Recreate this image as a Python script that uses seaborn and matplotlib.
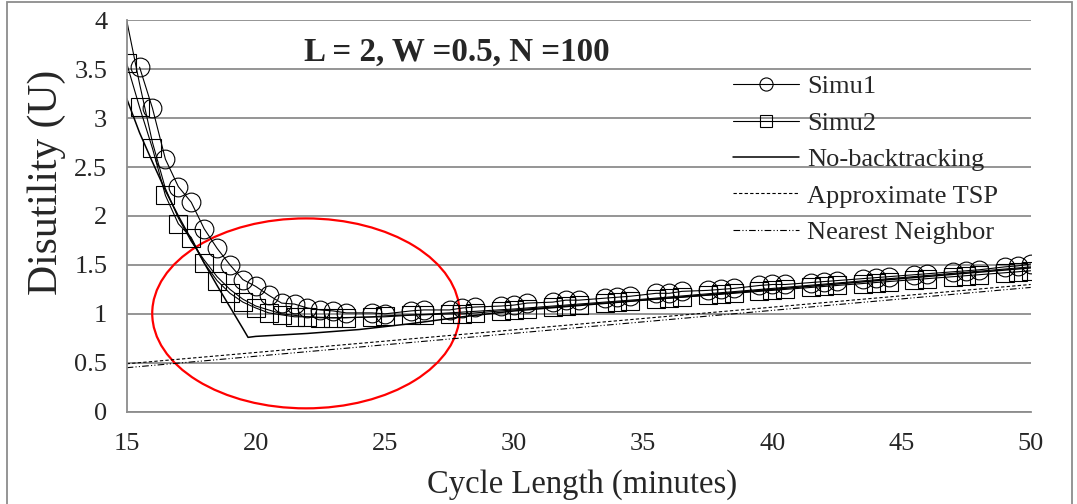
import numpy as np
import pandas as pd
import matplotlib
matplotlib.use('Agg')
import matplotlib.pyplot as plt
import seaborn as sns
from matplotlib.patches import Ellipse, Rectangle

# data
simu1_x = [15.5, 16, 16.5, 17, 17.5, 18, 18.5, 19, 19.5, 20, 20.5, 21, 21.5, 22, 22.5, 23, 23.5,
           24.5, 25, 26, 26.5, 27.5, 28, 28.5, 29.5, 30, 30.5, 31.5, 32, 32.5, 33.5, 34, 34.5,
           35.5, 36, 36.5, 37.5, 38, 38.5, 39.5, 40, 40.5, 41.5, 42, 42.5, 43.5, 44, 44.5,
           45.5, 46, 47, 47.5, 48, 49, 49.5, 50]
simu1_y = [3.52, 3.10, 2.58, 2.30, 2.14, 1.87, 1.67, 1.50, 1.35, 1.28, 1.19, 1.11, 1.10, 1.06, 1.04, 1.03, 1.01,
           1.01, 1.00, 1.03, 1.04, 1.04, 1.06, 1.07, 1.08, 1.09, 1.11, 1.12, 1.14, 1.14, 1.16, 1.17, 1.18,
           1.21, 1.21, 1.23, 1.24, 1.25, 1.26, 1.29, 1.30, 1.30, 1.32, 1.33, 1.34, 1.36, 1.37, 1.38,
           1.40, 1.41, 1.43, 1.44, 1.45, 1.48, 1.49, 1.51]

simu2_x = [15] + simu1_x
simu2_y = [3.56, 3.11, 2.69, 2.21, 1.92, 1.78, 1.52, 1.34, 1.21, 1.12, 1.06, 1.01, 0.99, 0.97, 0.97, 0.96, 0.96, 0.96,
           0.97, 0.98, 0.99, 0.99, 1.00, 1.00, 1.01, 1.03, 1.04, 1.05, 1.07, 1.08, 1.09, 1.11, 1.12, 1.13,
           1.15, 1.16, 1.17, 1.19, 1.20, 1.21, 1.23, 1.24, 1.25, 1.27, 1.28, 1.29, 1.31, 1.32, 1.33,
           1.35, 1.36, 1.38, 1.39, 1.40, 1.42, 1.43, 1.44]

# no-backtracking curve with its kink near 19.7
nobt_x = [15, 15.5, 16, 16.5, 17, 17.5, 18, 18.5, 19, 19.5, 19.7, 20, 22, 24, 26, 28, 30, 35, 40, 45, 50]
nobt_y = [3.20, 2.85, 2.55, 2.26, 2.00, 1.76, 1.52, 1.29, 1.07, 0.85, 0.76, 0.77, 0.80, 0.84, 0.90, 0.97, 1.03,
          1.14, 1.25, 1.36, 1.47]

# extra unlabeled steep line starting at the top-left corner
steep_x = [15, 15.5, 16, 16.5, 17, 17.5, 18, 18.5, 19, 19.5, 20, 21, 22, 23, 25, 30, 35, 40, 45, 50]
steep_y = [4.00, 3.35, 2.75, 2.28, 1.98, 1.74, 1.55, 1.38, 1.25, 1.15, 1.08, 1.00, 0.97, 0.96, 0.97, 1.05,
           1.15, 1.26, 1.37, 1.48]

tsp_x = [15, 50]
tsp_y = [0.49, 1.30]
nn_x = [15, 50]
nn_y = [0.45, 1.27]

title_txt = 'L = 2, W =0.5, N =100'

sns.set_style('white')
plt.rcParams['font.family'] = ['Liberation Serif', 'DejaVu Serif']

fig = plt.figure(figsize=(10.77, 5.04), dpi=100)
ax = fig.add_axes([0.1176, 0.183, 0.8394, 0.777])

grey = '#8c8c8c'
sns.lineplot(x=simu1_x, y=simu1_y, ax=ax, color='black', lw=0.8, marker='o', markersize=13.5,
             mfc='none', mec='black', mew=0.8, label='Simu1')
sns.lineplot(x=simu2_x, y=simu2_y, ax=ax, color='black', lw=0.8, marker='s', markersize=12.5,
             mfc='none', mec='black', mew=0.8, label='Simu2')
sns.lineplot(x=nobt_x, y=nobt_y, ax=ax, color='black', lw=1.1, label='No-backtracking')
sns.lineplot(x=tsp_x, y=tsp_y, ax=ax, color='black', lw=0.8, label='Approximate TSP')
sns.lineplot(x=nn_x, y=nn_y, ax=ax, color='black', lw=0.8, label='Nearest Neighbor')
ax.lines[3].set_linestyle((0, (3, 2)))
ax.lines[4].set_linestyle((0, (6, 2, 1, 2, 1, 2)))
sns.lineplot(x=steep_x, y=steep_y, ax=ax, color='black', lw=0.8, legend=False)

ax.add_patch(Ellipse((21.94, 1.005), 11.9, 1.94, fill=False, edgecolor='red', lw=1.6))

ax.set_xlim(15, 50)
ax.set_ylim(0, 4)
ax.set_xticks(np.arange(15, 51, 5))
ax.set_yticks(np.arange(0, 4.01, 0.5))
ax.set_yticklabels(['0', '0.5', '1', '1.5', '2', '2.5', '3', '3.5', '4'])
ax.yaxis.grid(True, color=grey, lw=1.3)
ax.set_axisbelow(True)
for s in ['top', 'right']:
    ax.spines[s].set_visible(False)
for s in ['left', 'bottom']:
    ax.spines[s].set_color(grey)
    ax.spines[s].set_linewidth(1.3)
ax.tick_params(axis='both', direction='out', length=5, width=1.3, color=grey, labelsize=19)
ax.tick_params(axis='y', pad=9)
ax.tick_params(axis='x', pad=10)

ax.set_xlabel('Cycle Length (minutes)', fontsize=23.5, va='center')
ax.xaxis.set_label_coords(0.504, -0.187)
ax.set_ylabel('Disutility (U)', fontsize=30, va='center')
ax.yaxis.set_label_coords(-0.088, 0.586)

ax.text(27.8, 3.67, title_txt, ha='center', va='center', fontsize=23.8, fontweight='bold')

handles, labels = ax.get_legend_handles_labels()
leg = ax.legend(handles[:5], labels[:5], loc='upper left', bbox_to_anchor=(0.671, 0.86), frameon=False,
                fontsize=19, handlelength=2.5, handletextpad=0.3, labelspacing=0.49, borderpad=0,
                borderaxespad=0, markerscale=0.7)

fig.add_artist(Rectangle((7 / 1077, -0.1), 1065 / 1077, 1.1 - 2.5 / 504, transform=fig.transFigure,
                         fill=False, edgecolor=grey, lw=1.3))

fig.savefig('out.png', dpi=100)
